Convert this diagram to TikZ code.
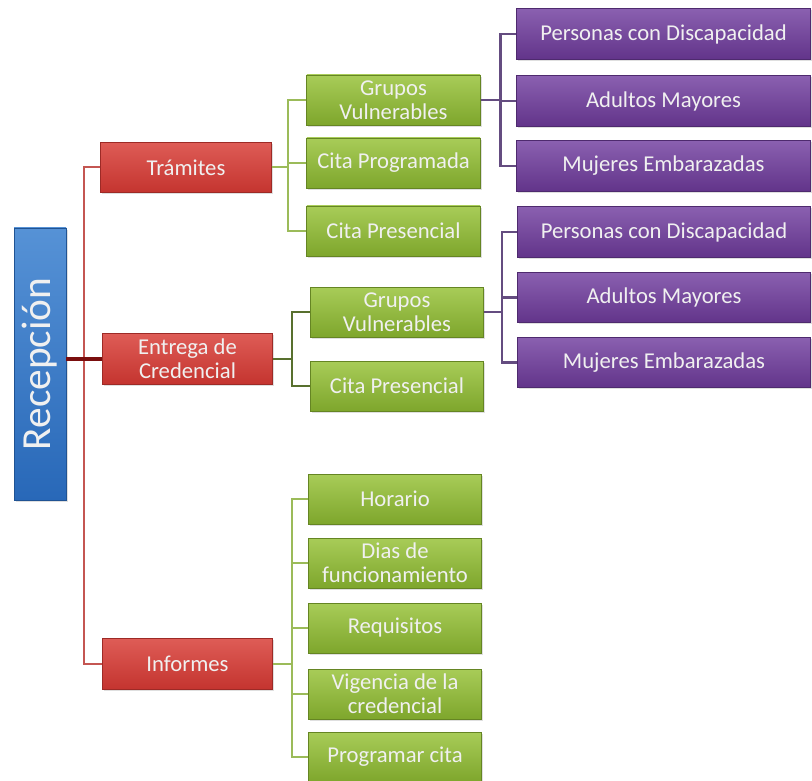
\documentclass[tikz,border=0pt]{standalone}
\usepackage{fontspec}
\setmainfont{Carlito}
\usetikzlibrary{shadows}

\definecolor{boxred}{RGB}{196,52,47}
\definecolor{boxredtop}{RGB}{222,92,86}
\definecolor{boxgreen}{RGB}{126,166,44}
\definecolor{boxgreentop}{RGB}{168,204,88}
\definecolor{boxpurple}{RGB}{98,52,138}
\definecolor{boxpurpletop}{RGB}{138,96,176}
\definecolor{boxblue}{RGB}{40,104,184}
\definecolor{boxbluetop}{RGB}{86,146,214}
\definecolor{linered}{RGB}{196,86,82}
\definecolor{linedarkred}{RGB}{122,14,14}
\definecolor{linegreen}{RGB}{155,187,89}
\definecolor{linedarkgreen}{RGB}{88,112,46}
\definecolor{linepurple}{RGB}{100,76,128}

\begin{document}
\begin{tikzpicture}[x=0.75pt, y=-0.75pt,
  every node/.style={font=\fontsize{17}{18}\selectfont, text=white!94!black, align=center, inner sep=0pt},
  card/.style={rectangle, draw=#1!80!black, line width=0.6pt,
    drop shadow={opacity=0.25, shadow xshift=1.2pt, shadow yshift=-1.2pt}},
  lvlone/.style={card=boxred, top color=boxredtop, bottom color=boxred,
    minimum width=128pt, minimum height=38pt},
  lvltwo/.style={card=boxgreen, top color=boxgreentop, bottom color=boxgreen,
    minimum width=130pt, minimum height=37.5pt},
  lvlthree/.style={card=boxpurple, top color=boxpurpletop, bottom color=boxpurple,
    minimum width=220pt, minimum height=38pt},
  rootbox/.style={card=boxblue, top color=boxbluetop, bottom color=boxblue,
    minimum width=204pt, minimum height=39pt, rotate=90,
    font=\fontsize{31}{33}\selectfont},
  spine/.style={linered, line width=1.5pt},
  rootlink/.style={linedarkred, line width=2.4pt},
  leaf/.style={linegreen, line width=1.5pt},
  leafdark/.style={linedarkgreen, line width=1.5pt},
  sub/.style={linepurple, line width=2pt}]
  \useasboundingbox (0,0) rectangle (812,780);

  % root
  \node[rootbox] (rec) at (40,364) {Recepción};

  % level one
  \node[lvlone] (tram) at (186,167.5) {Trámites};
  \node[lvlone] (ent)  at (187.5,359) {Entrega de\\Credencial};
  \node[lvlone] (inf)  at (187.5,664) {Informes};

  % level two: Trámites
  \node[lvltwo] (gvone)   at (393.5,100) {Grupos\\Vulnerables};
  \node[lvltwo] (cprog)   at (393.5,163) {Cita Programada};
  \node[lvltwo] (cpresone) at (393.5,231) {Cita Presencial};

  % level two: Entrega de Credencial
  \node[lvltwo] (gvtwo)   at (397,312) {Grupos\\Vulnerables};
  \node[lvltwo] (cprestwo) at (397,386) {Cita Presencial};

  % level two: Informes
  \node[lvltwo] (hor)  at (395,499) {Horario};
  \node[lvltwo] (dias) at (395,563) {Dias de\\funcionamiento};
  \node[lvltwo] (req)  at (395,628) {Requisitos};
  \node[lvltwo] (vig)  at (395,694) {Vigencia de la\\credencial};
  \node[lvltwo] (prog) at (395,757) {Programar cita};

  % level three
  \node[lvlthree] (pdone) at (663.5,34)  {Personas con Discapacidad};
  \node[lvlthree] (amone) at (663.5,101) {Adultos Mayores};
  \node[lvlthree] (meone) at (663.5,166) {Mujeres Embarazadas};
  \node[lvlthree] (pdtwo) at (664,232)   {Personas con Discapacidad};
  \node[lvlthree] (amtwo) at (664,297.5) {Adultos Mayores};
  \node[lvlthree] (metwo) at (664,362.5) {Mujeres Embarazadas};

  % connectors
  \draw[spine] (tram.west) -- ++(-16,0) |- (inf.west);
  \draw[rootlink] (rec.south |- ent.west) -- (ent.west);
  \foreach \n in {gvone,cprog,cpresone}
    \draw[leaf] (tram.east) -- ++(16,0) |- (\n.west);
  \foreach \n in {gvtwo,cprestwo}
    \draw[leafdark] (ent.east) -- ++(19,0) |- (\n.west);
  \foreach \n in {hor,dias,req,vig,prog}
    \draw[leaf] (inf.east) -- ++(19,0) |- (\n.west);
  \foreach \n in {pdone,amone,meone}
    \draw[sub] (gvone.east) -- ++(20,0) |- (\n.west);
  \foreach \n in {pdtwo,amtwo,metwo}
    \draw[sub] (gvtwo.east) -- ++(18,0) |- (\n.west);
\end{tikzpicture}
\end{document}
